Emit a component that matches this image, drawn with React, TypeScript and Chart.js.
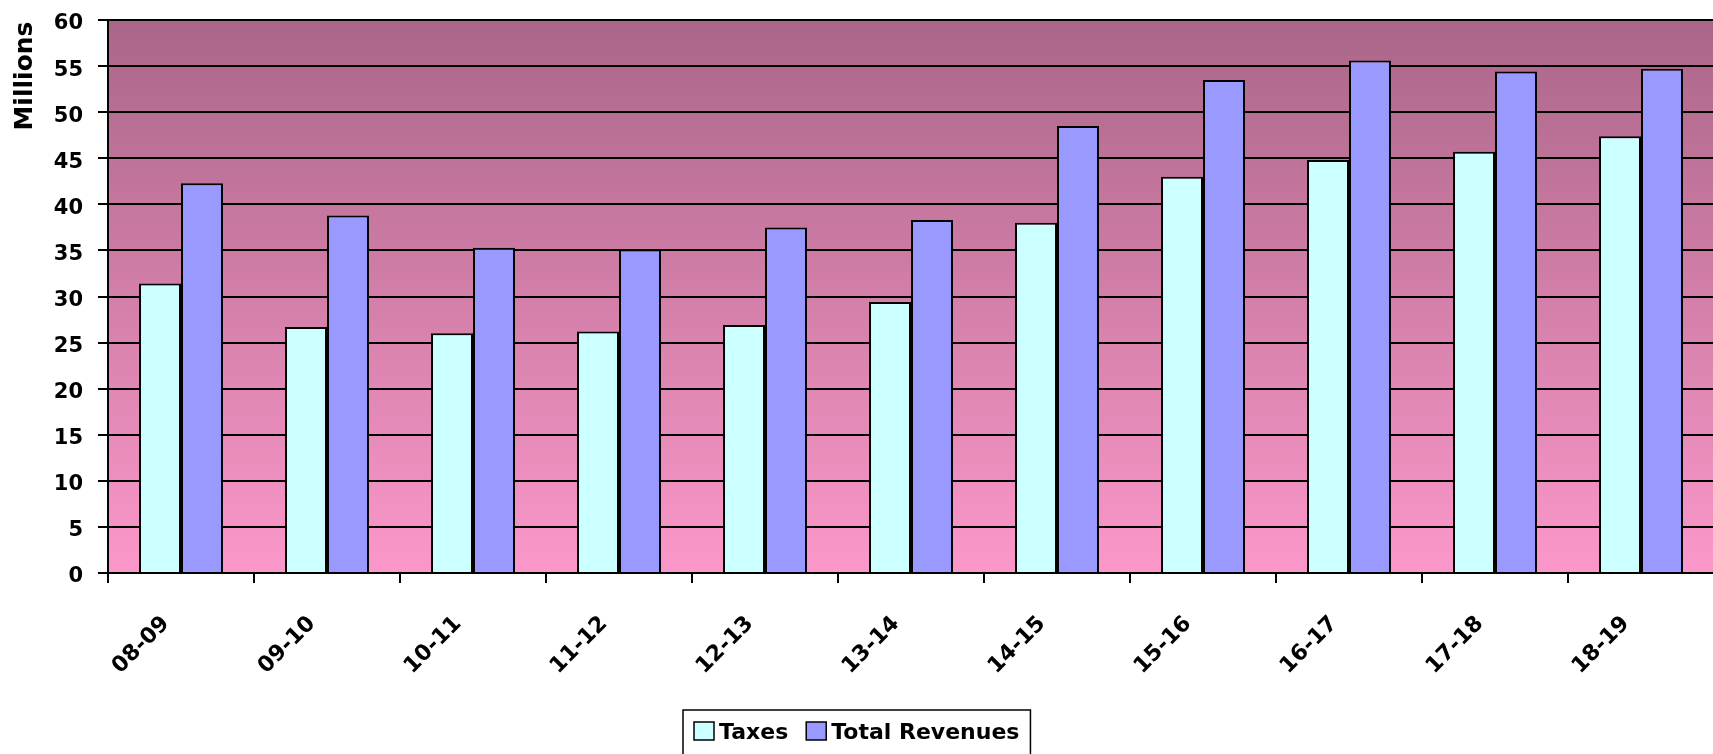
import React, { useEffect, useRef } from "react";
import { Chart, registerables } from "chart.js";

Chart.register(...registerables);

const categories = ["08-09", "09-10", "10-11", "11-12", "12-13", "13-14", "14-15", "15-16", "16-17", "17-18", "18-19"];
const taxes = [31.4, 26.7, 26.0, 26.2, 26.9, 29.4, 38.0, 43.0, 44.8, 45.7, 47.4];
const totalRevenues = [42.3, 38.8, 35.3, 35.1, 37.5, 38.3, 48.5, 53.5, 55.6, 54.4, 54.7];
const seriesNames = ["Taxes", "Total Revenues"];
const seriesColors = ["#CCFFFF", "#9999FF"];
const yMin = 0;
const yMax = 60;
const yStep = 5;
const yTitle = "Millions";

const FONT = "'DejaVu Sans', 'Liberation Sans', Arial, sans-serif";

const plotBackground = {
  id: "plotBackground",
  beforeDraw(chart: any) {
    const { ctx, chartArea: a } = chart;
    const g = ctx.createLinearGradient(0, a.top, 0, a.bottom);
    g.addColorStop(0, "#AA6688");
    g.addColorStop(1, "#FB98CA");
    ctx.save();
    ctx.fillStyle = g;
    ctx.fillRect(a.left, a.top, a.right - a.left, a.bottom - a.top);
    ctx.restore();
  },
};

const titleAndLegend = {
  id: "titleAndLegend",
  afterDraw(chart: any) {
    const { ctx } = chart;
    ctx.save();
    ctx.font = `bold 25px ${FONT}`;
    ctx.fillStyle = "#000";
    ctx.textAlign = "center";
    ctx.textBaseline = "middle";
    ctx.translate(25, 76);
    ctx.rotate(-Math.PI / 2);
    ctx.fillText(yTitle, 0, 0);
    ctx.restore();

    ctx.save();
    ctx.font = `bold 22px ${FONT}`;
    const box = 20;
    const boxH = 18;
    const gapText = 5;
    const gapItem = 18;
    const pad = 11;
    const datasets = chart.data.datasets;
    const widths = datasets.map((d: any) => ctx.measureText(d.label).width);
    let inner = 0;
    widths.forEach((w: number, i: number) => {
      inner += box + gapText + w + (i > 0 ? gapItem : 0);
    });
    const totalW = inner + pad * 2;
    const visibleW = 1713;
    const left = Math.round(visibleW / 2 - totalW / 2);
    const top = 710;
    ctx.lineWidth = 1.5;
    ctx.strokeStyle = "#000";
    ctx.fillStyle = "#fff";
    ctx.fillRect(left, top, totalW, 60);
    ctx.strokeRect(left, top, totalW, 60);
    let x = left + pad;
    datasets.forEach((d: any, i: number) => {
      if (i > 0) x += gapItem;
      ctx.fillStyle = d.backgroundColor;
      ctx.fillRect(x, 722, box, boxH);
      ctx.lineWidth = 1.5;
      ctx.strokeStyle = "#000";
      ctx.strokeRect(x, 722, box, boxH);
      x += box + gapText;
      ctx.fillStyle = "#000";
      ctx.textAlign = "left";
      ctx.textBaseline = "alphabetic";
      ctx.fillText(d.label, x, 739);
      x += widths[i];
    });
    ctx.restore();
  },
};

export default function App() {
  const ref = useRef<HTMLCanvasElement | null>(null);

  useEffect(() => {
    if (!ref.current) return;
    const chart = new Chart(ref.current, {
      type: "bar",
      data: {
        labels: categories,
        datasets: [
          {
            label: seriesNames[0],
            data: taxes,
            backgroundColor: seriesColors[0],
            borderColor: "#000",
            borderWidth: 2,
            categoryPercentage: 0.575,
            barPercentage: 1,
          },
          {
            label: seriesNames[1],
            data: totalRevenues,
            backgroundColor: seriesColors[1],
            borderColor: "#000",
            borderWidth: 2,
            categoryPercentage: 0.575,
            barPercentage: 1,
          },
        ],
      },
      options: {
        animation: false,
        responsive: false,
        devicePixelRatio: 1,
        layout: { padding: { top: 20, right: 6, bottom: 0, left: 0 } },
        plugins: {
          legend: { display: false },
          tooltip: { enabled: false },
          title: { display: false },
        },
        scales: {
          x: {
            offset: true,
            grid: {
              display: true,
              offset: true,
              drawOnChartArea: false,
              drawTicks: true,
              tickLength: 10,
              color: "#000",
              lineWidth: 2,
            },
            border: { display: true, color: "#000", width: 2 },
            ticks: {
              color: "#000",
              font: { family: FONT, size: 22, weight: "bold" },
              minRotation: 45,
              maxRotation: 45,
              autoSkip: false,
              padding: 28,
              labelOffset: -15,
            },
            afterFit: (s: any) => {
              s.height = 181;
            },
          },
          y: {
            min: yMin,
            max: yMax,
            ticks: {
              stepSize: yStep,
              color: "#000",
              font: { family: FONT, size: 21, weight: "bold" },
              padding: 15,
              labelOffset: 4,
            },
            grid: {
              color: "#000",
              lineWidth: 2,
              drawTicks: true,
              tickLength: 10,
            },
            border: { display: true, color: "#000", width: 2 },
            afterFit: (s: any) => {
              s.width = 108;
              s.paddingTop = 0;
              s.paddingBottom = 0;
            },
          },
        },
      },
      plugins: [plotBackground, titleAndLegend],
    });
    return () => chart.destroy();
  }, []);

  return (
    <div
      style={{
        position: "fixed",
        left: 0,
        top: 0,
        width: 1713,
        height: 754,
        overflow: "hidden",
        background: "#fff",
      }}
    >
      <canvas ref={ref} width={1720} height={754} style={{ display: "block" }} />
    </div>
  );
}
